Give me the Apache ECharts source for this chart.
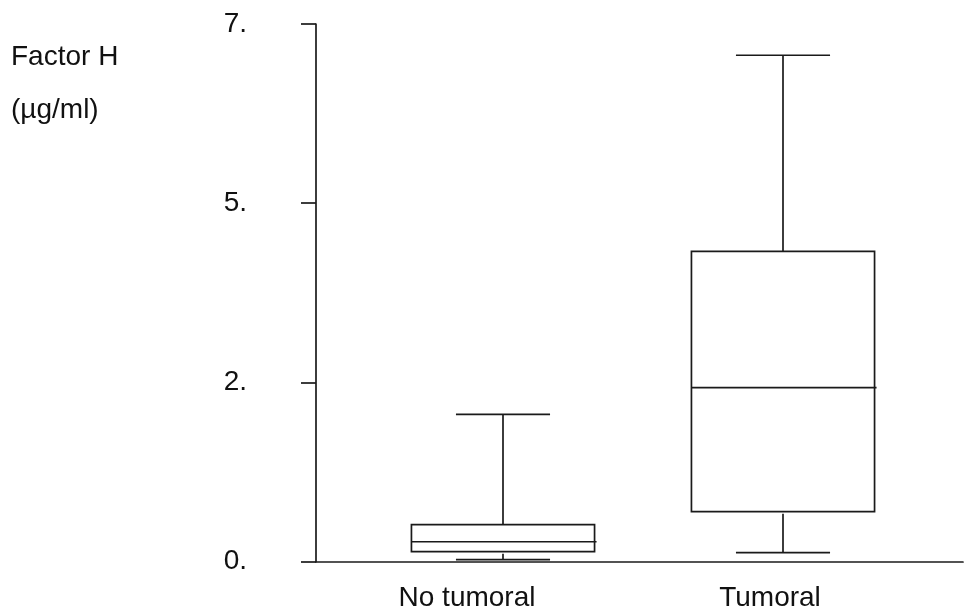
<!DOCTYPE html>
<html><head><meta charset="utf-8">
<script src="https://cdn.jsdelivr.net/npm/echarts@6/dist/echarts.min.js"></script>
<style>html,body{margin:0;padding:0;background:#fff}#c{width:966px;height:616px}</style>
</head><body><div id="c"></div>
<script>
const categories = ['No tumoral', 'Tumoral'];
const lowValues = [0.026, 0.117];
const q1Values = [0.130, 0.651];
const medianValues = [0.260, 2.265];
const q3Values = [0.482, 4.041];
const highValues = [1.919, 6.593];
const yTickLabels = ['0.', '2.', '5.', '7.'];
const yMin = 0, yMax = 7, yInterval = 7 / 3;

const boxData = categories.map((c, i) => [i, lowValues[i], q1Values[i], medianValues[i], q3Values[i], highValues[i]]);
const ink = '#1a1a1a';
const font = 'Liberation Sans, Arial, Helvetica, sans-serif';

const chart = echarts.init(document.getElementById('c'), null, {renderer: 'canvas'});
chart.setOption({
  animation: false,
  backgroundColor: '#fff',
  title: {
    text: 'Factor H\n(µg/ml)',
    left: 11, top: 31, padding: 0,
    textStyle: {fontFamily: font, fontSize: 28, fontWeight: 'normal', color: '#111', lineHeight: 53}
  },
  grid: [
    {left: 363, right: 43, top: 24, bottom: 54.3},
    {left: 316, right: 3, top: 24, bottom: 54.3}
  ],
  xAxis: [
    {
      type: 'category', gridIndex: 0, data: categories,
      axisLine: {show: false}, axisTick: {show: false},
      axisLabel: {
        margin: 23, fontFamily: font, fontSize: 28, color: '#111',
        formatter: v => (v === categories[0] ? '{a|' + v + '}' : '{b|' + v + '}'),
        rich: {
          a: {fontFamily: font, fontSize: 28, color: '#111', padding: [0, 72, 0, 0]},
          b: {fontFamily: font, fontSize: 28, color: '#111', padding: [0, 26, 0, 0]}
        }
      },
      splitLine: {show: false}
    },
    {
      type: 'value', gridIndex: 1, min: 0, max: 1,
      axisLine: {show: true, onZero: false, lineStyle: {color: ink, width: 1.7}},
      axisTick: {show: false}, axisLabel: {show: false}, splitLine: {show: false}
    }
  ],
  yAxis: [
    {
      type: 'value', gridIndex: 0, min: yMin, max: yMax, interval: yInterval, offset: 47,
      axisLine: {show: true, lineStyle: {color: ink, width: 1.7}},
      axisTick: {show: true, length: 15, lineStyle: {color: ink, width: 1.7}},
      axisLabel: {
        margin: 69, fontFamily: font, fontSize: 28, color: '#111', padding: [0, 0, 11, 0],
        formatter: (v, i) => yTickLabels[i]
      },
      splitLine: {show: false}
    },
    {type: 'value', gridIndex: 1, min: 0, max: 1, show: false}
  ],
  series: [{
    type: 'custom', xAxisIndex: 0, yAxisIndex: 0,
    encode: {x: 0, y: [1, 2, 3, 4, 5]},
    data: boxData,
    renderItem: function (params, api) {
      const x = api.value(0);
      const lo = api.coord([x, api.value(1)]);
      const q1 = api.coord([x, api.value(2)]);
      const md = api.coord([x, api.value(3)]);
      const q3 = api.coord([x, api.value(4)]);
      const hi = api.coord([x, api.value(5)]);
      const band = api.size([1, 0])[0];
      const bw = band * 0.654, cw = band * 0.336;
      const cx = lo[0];
      const st = {stroke: ink, lineWidth: 1.7, fill: null};
      return {
        type: 'group',
        children: [
          {type: 'rect', shape: {x: cx - bw / 2, y: q3[1], width: bw, height: q1[1] - q3[1]}, style: {stroke: ink, lineWidth: 1.7, fill: 'rgba(0,0,0,0)'}},
          {type: 'line', shape: {x1: cx - bw / 2, y1: md[1], x2: cx + bw / 2 + 2, y2: md[1]}, style: st},
          {type: 'line', shape: {x1: cx, y1: q3[1], x2: cx, y2: hi[1]}, style: st},
          {type: 'line', shape: {x1: cx - cw / 2, y1: hi[1], x2: cx + cw / 2, y2: hi[1]}, style: st},
          {type: 'line', shape: {x1: cx, y1: q1[1] + 2, x2: cx, y2: lo[1]}, style: st},
          {type: 'line', shape: {x1: cx - cw / 2, y1: lo[1], x2: cx + cw / 2, y2: lo[1]}, style: st}
        ]
      };
    }
  }]
});
</script>
</body></html>
